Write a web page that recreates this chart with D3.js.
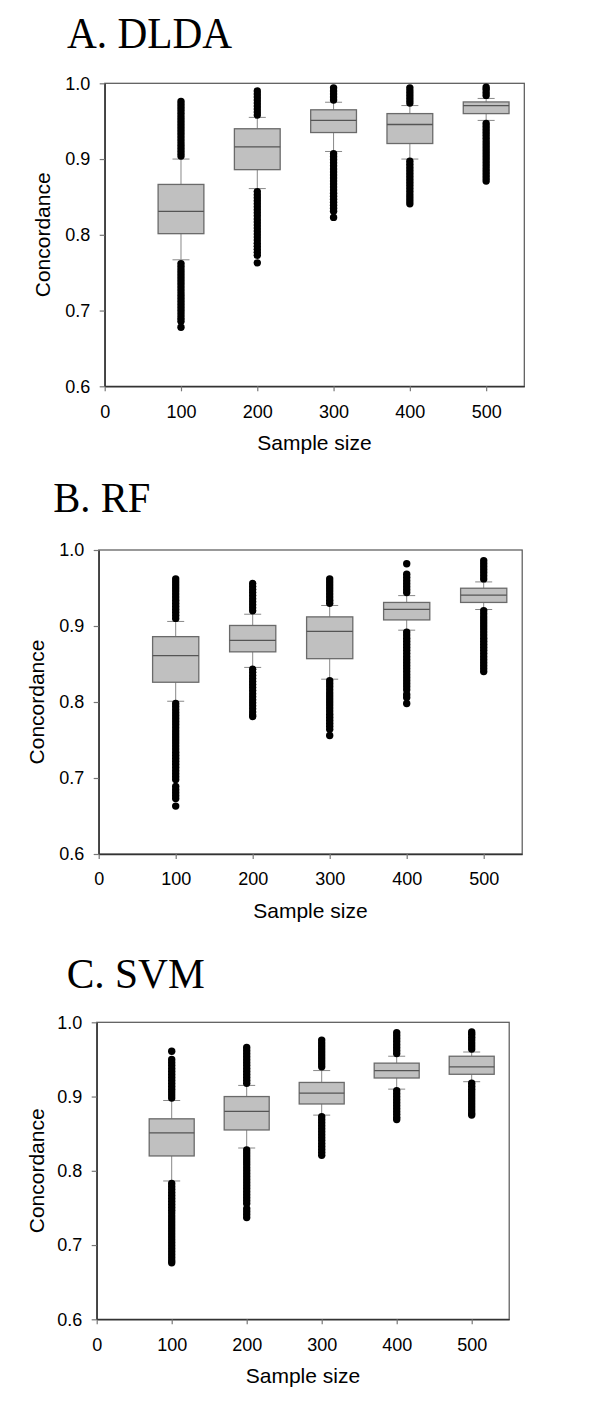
<!DOCTYPE html>
<html>
<head>
<meta charset="utf-8">
<script src="https://cdn.jsdelivr.net/npm/d3@7"></script>
<style>
  html, body { margin: 0; padding: 0; background: #fff; }
  svg { display: block; }
</style>
</head>
<body>
<svg id="chart" width="600" height="1401"></svg>
<script>
// ---------------- DATA ----------------
const sampleSizes = [100, 200, 300, 400, 500];
const xTickValues = [0, 100, 200, 300, 400, 500];
const yTickValues = [0.6, 0.7, 0.8, 0.9, 1.0];
const panelTitles = ["A. DLDA", "B. RF", "C. SVM"];
const xAxisTitle = "Sample size";
const yAxisTitle = "Concordance";

// Box statistics per sample size: [lowerWhisker, q1, median, q3, upperWhisker]
const dldaStats = [
  [0.767, 0.8015, 0.831, 0.8665, 0.900],
  [0.861, 0.886, 0.916, 0.940, 0.955],
  [0.910, 0.935, 0.951, 0.965, 0.975],
  [0.900, 0.9205, 0.9456, 0.960, 0.9706],
  [0.951, 0.960, 0.9706, 0.9754, 0.980]
];
const rfStats = [
  [0.801, 0.826, 0.861, 0.886, 0.906],
  [0.8455, 0.866, 0.881, 0.9007, 0.9155],
  [0.830, 0.857, 0.893, 0.912, 0.927],
  [0.8945, 0.908, 0.922, 0.931, 0.940],
  [0.9217, 0.931, 0.9405, 0.9497, 0.958]
];
const svmStats = [
  [0.7863, 0.820, 0.851, 0.870, 0.8947],
  [0.8307, 0.855, 0.880, 0.900, 0.915],
  [0.875, 0.890, 0.9046, 0.919, 0.935],
  [0.910, 0.925, 0.935, 0.945, 0.9543],
  [0.920, 0.930, 0.940, 0.9543, 0.960]
];

// Outlying points per sample size
const dldaOutliers = [
  [0.904,0.908,0.912,0.916,0.920,0.924,0.928,0.932,0.936,0.940,0.944,0.948,0.952,0.956,0.960,0.964,0.968,0.972,0.976,
   0.762,0.758,0.754,0.750,0.746,0.742,0.738,0.734,0.730,0.726,0.722,0.718,0.714,0.710,0.706,0.702,0.698,0.694,0.690,0.686,0.678],
  [0.958,0.962,0.966,0.970,0.974,0.978,0.982,0.986,0.990,
   0.857,0.853,0.849,0.845,0.841,0.837,0.833,0.829,0.825,0.821,0.817,0.813,0.809,0.805,0.801,0.797,0.793,0.789,0.785,0.781,0.777,0.773,0.763],
  [0.978,0.982,0.986,0.990,0.994,
   0.907,0.903,0.899,0.895,0.891,0.887,0.883,0.879,0.875,0.871,0.867,0.863,0.859,0.855,0.851,0.847,0.843,0.839,0.835,0.831,0.823],
  [0.974,0.978,0.982,0.986,0.990,0.994,
   0.897,0.893,0.889,0.885,0.881,0.877,0.873,0.869,0.865,0.861,0.857,0.853,0.849,0.845,0.841],
  [0.984,0.988,0.992,0.995,
   0.947,0.943,0.939,0.935,0.931,0.927,0.923,0.919,0.915,0.911,0.907,0.903,0.899,0.895,0.891,0.887,0.883,0.879,0.875,0.871]
];
const rfOutliers = [
  [0.910,0.914,0.918,0.922,0.926,0.930,0.934,0.938,0.942,0.946,0.950,0.954,0.958,0.962,
   0.798,0.794,0.790,0.786,0.782,0.778,0.774,0.770,0.766,0.762,0.758,0.754,0.750,0.746,0.742,0.738,0.734,0.730,0.726,0.722,0.718,0.714,0.710,0.706,0.702,0.698,
   0.689,0.685,0.681,0.677,0.673,0.663],
  [0.920,0.924,0.928,0.932,0.936,0.940,0.944,0.948,0.952,0.956,
   0.843,0.839,0.835,0.831,0.827,0.823,0.819,0.815,0.811,0.807,0.803,0.799,0.795,0.791,0.787,0.783,0.781],
  [0.930,0.934,0.938,0.942,0.946,0.950,0.954,0.958,0.962,
   0.828,0.824,0.820,0.816,0.812,0.808,0.804,0.800,0.796,0.792,0.788,0.784,0.780,0.776,0.772,0.768,0.764,0.756],
  [0.944,0.948,0.952,0.956,0.960,0.964,0.968,0.982,
   0.892,0.888,0.884,0.880,0.876,0.872,0.868,0.864,0.860,0.856,0.852,0.848,0.844,0.840,0.836,0.832,0.828,0.824,0.820,0.816,0.810,0.806,0.798],
  [0.962,0.966,0.970,0.974,0.978,0.982,0.986,
   0.920,0.916,0.912,0.908,0.904,0.900,0.896,0.892,0.888,0.884,0.880,0.876,0.872,0.868,0.864,0.860,0.856,0.852,0.848,0.844,0.840]
];
const svmOutliers = [
  [0.898,0.902,0.906,0.910,0.914,0.918,0.922,0.926,0.930,0.934,0.938,0.942,0.946,0.950,0.961,
   0.783,0.779,0.775,0.771,0.767,0.763,0.759,0.755,0.751,0.747,0.743,0.739,0.735,0.731,0.727,0.723,0.719,0.715,0.711,0.707,0.703,0.699,0.695,0.691,0.687,0.683,0.679,0.676],
  [0.918,0.922,0.926,0.930,0.934,0.938,0.942,0.946,0.950,0.954,0.958,0.962,0.966,
   0.828,0.824,0.820,0.816,0.812,0.808,0.804,0.800,0.796,0.792,0.788,0.784,0.780,0.776,0.772,0.768,0.764,0.760,0.756,0.749,0.745,0.741,0.737],
  [0.940,0.944,0.948,0.952,0.956,0.960,0.964,0.968,0.972,0.976,
   0.873,0.869,0.865,0.861,0.857,0.853,0.849,0.845,0.841,0.837,0.833,0.829,0.825,0.821],
  [0.958,0.962,0.966,0.970,0.974,0.978,0.982,0.986,
   0.908,0.904,0.900,0.896,0.892,0.888,0.884,0.880,0.876,0.872,0.869],
  [0.964,0.968,0.972,0.976,0.980,0.984,0.987,
   0.918,0.914,0.910,0.906,0.902,0.898,0.894,0.890,0.886,0.882,0.878,0.875]
];

// ---------------- LAYOUT ----------------
const panels = [
  { title: panelTitles[0], stats: dldaStats, outliers: dldaOutliers,
    left: 104.7, top: 83.3, width: 419.6, height: 303,
    titleX: 67, titleY: 48.3, titleLen: 165, titleSize: 45, yLabelX: 42.7 },
  { title: panelTitles[1], stats: rfStats, outliers: rfOutliers,
    left: 98.7, top: 550, width: 423.5, height: 304,
    titleX: 53.3, titleY: 511.7, titleLen: 97, titleSize: 42, yLabelX: 36.7 },
  { title: panelTitles[2], stats: svmStats, outliers: svmOutliers,
    left: 96.7, top: 1022.3, width: 412.5, height: 297,
    titleX: 66.7, titleY: 988.3, titleLen: 138, titleSize: 43, yLabelX: 36.7 }
];

const sans = "'Liberation Sans', Arial, Helvetica, sans-serif";
const serif = "'Liberation Serif', 'Times New Roman', Times, serif";
const boxHalfWidthData = 30;   // box spans ±30 sample-size units
const capHalfPx = 8.5;
const dotR = 3.7;

const svg = d3.select("#chart");

panels.forEach(p => {
  const x = d3.scaleLinear().domain([0, 550]).range([p.left, p.left + p.width]);
  const y = d3.scaleLinear().domain([0.6, 1.0]).range([p.top + p.height, p.top]);

  // Title
  svg.append("text")
    .attr("x", p.titleX).attr("y", p.titleY)
    .attr("font-family", serif).attr("font-size", p.titleSize)
    .attr("textLength", p.titleLen).attr("lengthAdjust", "spacingAndGlyphs")
    .attr("fill", "#000")
    .text(p.title);

  // Frame (top and right)
  svg.append("rect")
    .attr("x", x(0)).attr("y", y(1.0))
    .attr("width", x(550) - x(0)).attr("height", y(0.6) - y(1.0))
    .attr("fill", "none").attr("stroke", "#555").attr("stroke-width", 1.2);

  // Axes
  const gx = svg.append("g")
    .attr("transform", `translate(0,${y(0.6)})`)
    .call(d3.axisBottom(x).tickValues(xTickValues).tickSize(5).tickSizeOuter(0).tickPadding(13.5).tickFormat(d3.format("d")));
  const gy = svg.append("g")
    .attr("transform", `translate(${x(0)},0)`)
    .call(d3.axisLeft(y).tickValues(yTickValues).tickSize(5).tickSizeOuter(0).tickPadding(9.5).tickFormat(d3.format(".1f")));
  [gx, gy].forEach(g => {
    g.select(".domain").attr("stroke", "#333").attr("stroke-width", 1.4);
    g.selectAll(".tick line").attr("stroke", "#777").attr("stroke-width", 1.2);
    g.selectAll(".tick text").attr("font-family", sans).attr("font-size", 18).attr("fill", "#000");
  });

  // Axis titles
  svg.append("text")
    .attr("x", (x(0) + x(550)) / 2).attr("y", y(0.6) + 64)
    .attr("text-anchor", "middle")
    .attr("font-family", sans).attr("font-size", 21).attr("fill", "#000")
    .text(xAxisTitle);
  svg.append("text")
    .attr("transform", `translate(${p.yLabelX},${(y(0.6) + y(1.0)) / 2}) rotate(-90)`)
    .attr("dy", "0.36em")
    .attr("text-anchor", "middle")
    .attr("font-family", sans).attr("font-size", 21).attr("fill", "#000")
    .text(yAxisTitle);

  // Boxes
  const g = svg.append("g");
  p.stats.forEach((s, i) => {
    const cx = x(sampleSizes[i]);
    const [lw, q1, med, q3, uw] = s;
    // whiskers
    g.append("line").attr("x1", cx).attr("x2", cx).attr("y1", y(uw)).attr("y2", y(q3))
      .attr("stroke", "#888").attr("stroke-width", 1);
    g.append("line").attr("x1", cx).attr("x2", cx).attr("y1", y(q1)).attr("y2", y(lw))
      .attr("stroke", "#888").attr("stroke-width", 1);
    g.append("line").attr("x1", cx - capHalfPx).attr("x2", cx + capHalfPx).attr("y1", y(uw)).attr("y2", y(uw))
      .attr("stroke", "#888").attr("stroke-width", 1);
    g.append("line").attr("x1", cx - capHalfPx).attr("x2", cx + capHalfPx).attr("y1", y(lw)).attr("y2", y(lw))
      .attr("stroke", "#888").attr("stroke-width", 1);
    // box
    g.append("rect")
      .attr("x", x(sampleSizes[i] - boxHalfWidthData)).attr("y", y(q3))
      .attr("width", x(sampleSizes[i] + boxHalfWidthData) - x(sampleSizes[i] - boxHalfWidthData))
      .attr("height", y(q1) - y(q3))
      .attr("fill", "#c0c0c0").attr("stroke", "#6a6a6a").attr("stroke-width", 1.3);
    g.append("line")
      .attr("x1", x(sampleSizes[i] - boxHalfWidthData)).attr("x2", x(sampleSizes[i] + boxHalfWidthData))
      .attr("y1", y(med)).attr("y2", y(med))
      .attr("stroke", "#555").attr("stroke-width", 1.3);
    // outliers
    g.selectAll(null).data(p.outliers[i]).enter().append("circle")
      .attr("cx", cx).attr("cy", d => y(d)).attr("r", dotR).attr("fill", "#000");
  });
});
</script>
</body>
</html>
